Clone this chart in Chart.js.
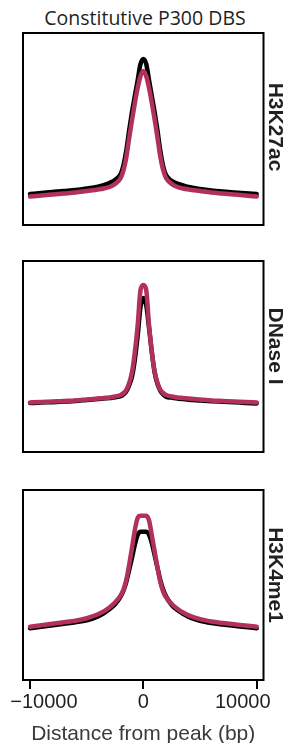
<!DOCTYPE html>
<html>
<head>
<meta charset="utf-8">
<script src="https://cdn.jsdelivr.net/npm/chart.js@4.4.1/dist/chart.umd.min.js"></script>
<style>
  html, body { margin: 0; padding: 0; background: #fff; overflow: hidden; }
  body { width: 289px; height: 743px; position: relative; }
  .panel { position: absolute; left: -40px; width: 369px; }
  .title {
    position: absolute; left: 145px; top: 18px;
    transform: translate(-50%, -50%);
    font-family: 'Open Sans', sans-serif; font-size: 19.5px;
    color: #231f20; white-space: nowrap; line-height: 1;
  }
  .side {
    position: absolute; left: 276px;
    transform: translate(-50%, -50%) rotate(90deg);
    font-family: 'Liberation Sans', Arial, sans-serif; font-weight: bold;
    font-size: 21px; color: #231f20; white-space: nowrap; line-height: 1;
  }
</style>
</head>
<body>
<div class="title">Constitutive P300 DBS</div>

<div class="panel" style="top:23px;height:212px"><canvas id="c1" width="369" height="212"></canvas></div>
<div class="panel" style="top:251px;height:211px"><canvas id="c2" width="369" height="211"></canvas></div>
<div class="panel" style="top:480px;height:265px"><canvas id="c3" width="369" height="265"></canvas></div>

<div class="side" style="top:127px">H3K27ac</div>
<div class="side" style="top:346px">DNase I</div>
<div class="side" style="top:575px">H3K4me1</div>

<script>
// ── Data (signal in arbitrary units, 0 = panel bottom, 100 = panel top) ──

var positions = [-10000, -9000, -8000, -7000, -6000, -5000, -4000, -3500, -3000, -2500,
  -2000, -1750, -1500, -1250, -1000, -750, -500, -250, 0, 250, 500, 750, 1000, 1250,
  1500, 1750, 2000, 2500, 3000, 3500, 4000, 5000, 6000, 7000, 8000, 9000, 10000];

var xTicks = [-10000, 0, 10000];

var h3k27acBlack = [16.1, 16.7, 17.2, 17.7, 18.2, 19, 20, 20.8, 21.9, 23.4,
  26.6, 31.3, 39, 49.5, 58.9, 67.2, 75.5, 83.9, 86.5, 83.9, 75.5, 67, 58.5, 49,
  38.5, 30.5, 26, 23, 21.6, 20.6, 19.8, 18.8, 18, 17.4, 16.9, 16.5, 16.1];
var h3k27acPink = [14.8, 15.4, 15.9, 16.4, 16.9, 17.7, 18.5, 19, 19.8, 21.4,
  24.5, 28.6, 35.4, 45.3, 54.7, 63.5, 71.4, 77.6, 80.2, 77.6, 71.4, 63.5, 54.7, 45.3,
  35.4, 28.6, 24.5, 21.4, 19.8, 19, 18.5, 17.7, 16.9, 16.4, 15.9, 15.4, 14.8];

var dnaseBlack = [25.6, 25.9, 26.1, 26.4, 26.7, 27.2, 27.7, 28, 28.2, 28.7,
  29.2, 30.2, 31.8, 35, 39.5, 48.5, 61, 76, 80.6, 77, 65, 52, 41.5, 35.5,
  32, 30.2, 29, 28.5, 28, 27.7, 27.4, 27, 26.6, 26.3, 26, 25.7, 25.4];
var dnasePink = [25.9, 26.2, 26.4, 26.7, 27, 27.5, 28, 28.3, 28.5, 29.1,
  29.8, 30.9, 32.5, 36.1, 41.9, 52.4, 66.5, 84.8, 87.4, 84.8, 66.5, 52.4, 41.9, 36.1,
  32.5, 30.9, 29.8, 29.1, 28.5, 28.3, 28, 27.5, 27, 26.7, 26.4, 26.2, 25.9];

var h3k4me1Black = [27.2, 28, 28.8, 29.6, 30.4, 31.4, 33.5, 35.1, 37.2, 39.8,
  44, 47.1, 51.8, 58.1, 64.4, 71.2, 76.4, 78, 78, 78, 76.5, 72, 65.5, 59,
  52.5, 47.5, 44, 39.5, 36.8, 34.8, 33.2, 31.2, 30, 29.2, 28.5, 27.9, 27.2];
var h3k4me1Pink = [28, 28.8, 29.6, 30.4, 31.2, 32.5, 34.6, 36.1, 38.2, 40.8,
  44.5, 47.6, 52.9, 60.7, 69.6, 79, 85.3, 86.4, 86.4, 86.4, 84, 76, 67.5, 59,
  51.5, 46.5, 43.5, 40, 37.5, 35.5, 34, 32, 30.8, 30, 29.3, 28.7, 28];

// ── Colours ──

var BLACK = '#000000';
var PINK  = '#b2305e';

// ── Frame around each panel ──

var framePlugin = {
  id: 'frame',
  afterDraw: function (chart) {
    var a = chart.chartArea;
    var ctx = chart.ctx;
    ctx.save();
    ctx.strokeStyle = '#000';
    ctx.lineWidth = 2;
    ctx.strokeRect(a.left, a.top, a.right - a.left, a.bottom - a.top);
    ctx.restore();
  }
};

function series(values, color) {
  return {
    data: positions.map(function (p, i) { return { x: p, y: values[i] }; }),
    borderColor: color,
    backgroundColor: color,
    borderWidth: 4.5,
    borderCapStyle: 'round',
    borderJoinStyle: 'round',
    cubicInterpolationMode: 'monotone',
    pointRadius: 0,
    fill: false
  };
}

function makePanel(canvasId, black, pink, showAxis) {
  var xScale = {
    type: 'linear',
    min: -10620,
    max: 10600,
    display: showAxis,
    afterBuildTicks: function (axis) {
      axis.ticks = xTicks.map(function (v) { return { value: v }; });
    },
    grid: { drawOnChartArea: false, drawTicks: true, tickLength: 9, color: '#000', lineWidth: 2 },
    border: { display: false },
    ticks: {
      color: '#231f20',
      font: { family: 'Liberation Sans', size: 20 },
      padding: 1,
      maxRotation: 0,
      autoSkip: false,
      callback: function (v) {
        // labels sit slightly inward of their tick marks in the original
        if (v < 0) return '     \u2212' + Math.abs(v);
        if (v > 0) return v + '     ';
        return '' + v;
      }
    },
    title: {
      display: true,
      text: 'Distance from peak (bp)',
      color: '#3a3a3a',
      font: { family: 'Liberation Sans', size: 21, lineHeight: 1 },
      padding: { top: 9, bottom: 0 }
    }
  };

  return new Chart(document.getElementById(canvasId), {
    type: 'line',
    data: {
      // pink first so it is drawn on top of black
      datasets: [series(pink, PINK), series(black, BLACK)]
    },
    options: {
      responsive: false,
      animation: false,
      layout: { padding: { left: 63, right: 65.5, top: 10, bottom: showAxis ? 0 : 10 } },
      plugins: { legend: { display: false }, tooltip: { enabled: false } },
      scales: {
        x: xScale,
        y: { display: false, min: 0, max: 100 }
      }
    },
    plugins: [framePlugin]
  });
}

makePanel('c1', h3k27acBlack, h3k27acPink, false);
makePanel('c2', dnaseBlack, dnasePink, false);
makePanel('c3', h3k4me1Black, h3k4me1Pink, true);
</script>
</body>
</html>
